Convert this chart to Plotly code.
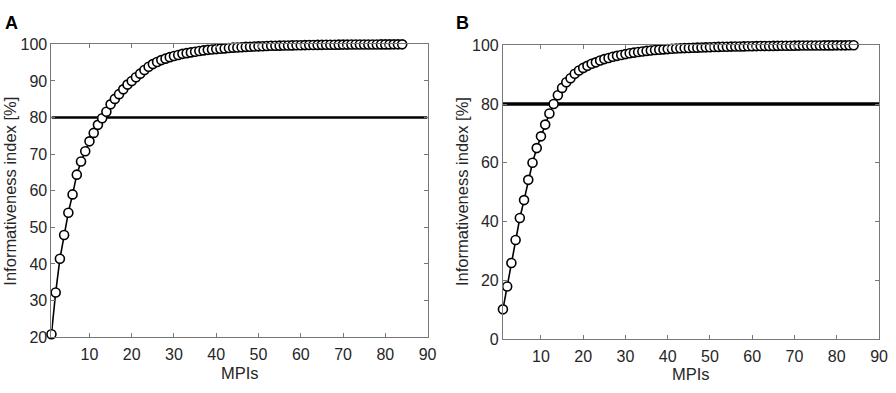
import plotly.graph_objects as go

mpis = list(range(1, 85))

info_a = [20.8, 32.2, 41.4, 47.9, 54.0, 59.0, 64.4, 68.0, 70.8, 73.5,
          75.8, 78.0, 79.8, 81.6, 83.6, 85.1, 86.4, 87.7, 89.0, 90.0,
          91.0, 92.0, 93.0, 93.9, 94.6, 95.2, 95.7, 96.1, 96.5, 96.8,
          97.1, 97.4, 97.6, 97.8, 98.0, 98.2, 98.35, 98.5, 98.6, 98.7,
          98.8, 98.9, 99.0, 99.1, 99.15, 99.2, 99.3, 99.35, 99.4, 99.45,
          99.5, 99.55, 99.6, 99.62, 99.65, 99.68, 99.7, 99.72, 99.75, 99.77,
          99.8, 99.82, 99.84, 99.85, 99.87, 99.88, 99.9, 99.91, 99.92, 99.93,
          99.94, 99.95, 99.96, 99.96, 99.97, 99.97, 99.98, 99.98, 99.99, 99.99,
          99.99, 100.0, 100.0, 100.0]

info_b = [10.1, 17.9, 25.9, 33.7, 41.2, 47.3, 54.2, 60.0, 65.0, 69.0,
          73.0, 76.8, 80.0, 83.0, 85.5, 87.4, 88.8, 90.3, 91.4, 92.3,
          93.0, 93.7, 94.2, 94.8, 95.3, 95.7, 96.1, 96.4, 96.7, 97.0,
          97.3, 97.5, 97.7, 97.9, 98.1, 98.25, 98.4, 98.5, 98.6, 98.7,
          98.8, 98.9, 99.0, 99.05, 99.1, 99.15, 99.2, 99.25, 99.3, 99.35,
          99.4, 99.45, 99.5, 99.52, 99.55, 99.58, 99.6, 99.63, 99.66, 99.7,
          99.72, 99.74, 99.76, 99.78, 99.8, 99.82, 99.84, 99.86, 99.87, 99.88,
          99.9, 99.91, 99.92, 99.93, 99.94, 99.95, 99.96, 99.97, 99.97, 99.98,
          99.98, 99.99, 100.0, 100.0]

threshold = 80
x_ticks = [10, 20, 30, 40, 50, 60, 70, 80, 90]
y_ticks_a = [20, 30, 40, 50, 60, 70, 80, 90, 100]
y_ticks_b = [0, 20, 40, 60, 80, 100]

fig = go.Figure()

for data, xa, ya, lw in [(info_a, "x", "y", 2.4), (info_b, "x2", "y2", 3.4)]:
    fig.add_trace(go.Scatter(x=[1, 90], y=[threshold, threshold], mode="lines",
                             line=dict(color="black", width=lw), xaxis=xa, yaxis=ya,
                             showlegend=False, hoverinfo="skip"))
    fig.add_trace(go.Scatter(x=mpis, y=data, mode="lines+markers",
                             line=dict(color="black", width=1.6),
                             marker=dict(symbol="circle", size=9, color="white",
                                         line=dict(color="black", width=1.6)),
                             xaxis=xa, yaxis=ya, showlegend=False, cliponaxis=False))

font_ticks = dict(family="Liberation Sans, Arial, sans-serif", size=16, color="#262626")
axis_common = dict(showline=True, linecolor="#777777", linewidth=1, mirror="ticks",
                   ticks="inside", ticklen=4, tickcolor="#777777", showgrid=False,
                   zeroline=False, tickfont=font_ticks, ticklabeloverflow="allow")

ydom = [0.1247, 0.9033]
fig.update_layout(
    width=896, height=393,
    margin=dict(l=0, r=0, t=0, b=0),
    paper_bgcolor="white", plot_bgcolor="white",
    xaxis=dict(domain=[0.058, 0.482], range=[1, 90], tickvals=x_ticks, anchor="y",
               ticklabelstandoff=3, **axis_common),
    yaxis=dict(domain=ydom, range=[20, 100], tickvals=y_ticks_a, anchor="x", **axis_common),
    xaxis2=dict(domain=[0.567, 0.991], range=[1, 90], tickvals=x_ticks, anchor="y2",
                ticklabelstandoff=3, **axis_common),
    yaxis2=dict(domain=[0.1196, 0.9008], range=[0, 100], tickvals=y_ticks_b, anchor="x2", **axis_common),
)

title_font = dict(family="Liberation Sans, Arial, sans-serif", size=16.5, color="#262626")
annots = [
    dict(text="MPIs", x=242 / 896, y=1 - 382 / 393, font=title_font),
    dict(text="MPIs", x=698 / 896, y=1 - 383 / 393, font=title_font),
    dict(text="Informativeness index [%]", x=10 / 896, y=1 - 191 / 393, textangle=-90, font=title_font),
    dict(text="Informativeness index [%]", x=466 / 896, y=1 - 192 / 393, textangle=-90, font=title_font),
    dict(text="<b>A</b>", x=12 / 896, y=1 - 16 / 393,
         font=dict(family="Liberation Sans, Arial, sans-serif", size=18, color="black")),
    dict(text="<b>B</b>", x=467 / 896, y=1 - 16 / 393,
         font=dict(family="Liberation Sans, Arial, sans-serif", size=18, color="black")),
]
for a in annots:
    fig.add_annotation(xref="paper", yref="paper", showarrow=False,
                       xanchor="center", yanchor="middle", **a)

fig.write_html("out.html", config={"displayModeBar": False},
               post_script="document.body.style.margin='0';document.body.style.overflow='hidden';")
